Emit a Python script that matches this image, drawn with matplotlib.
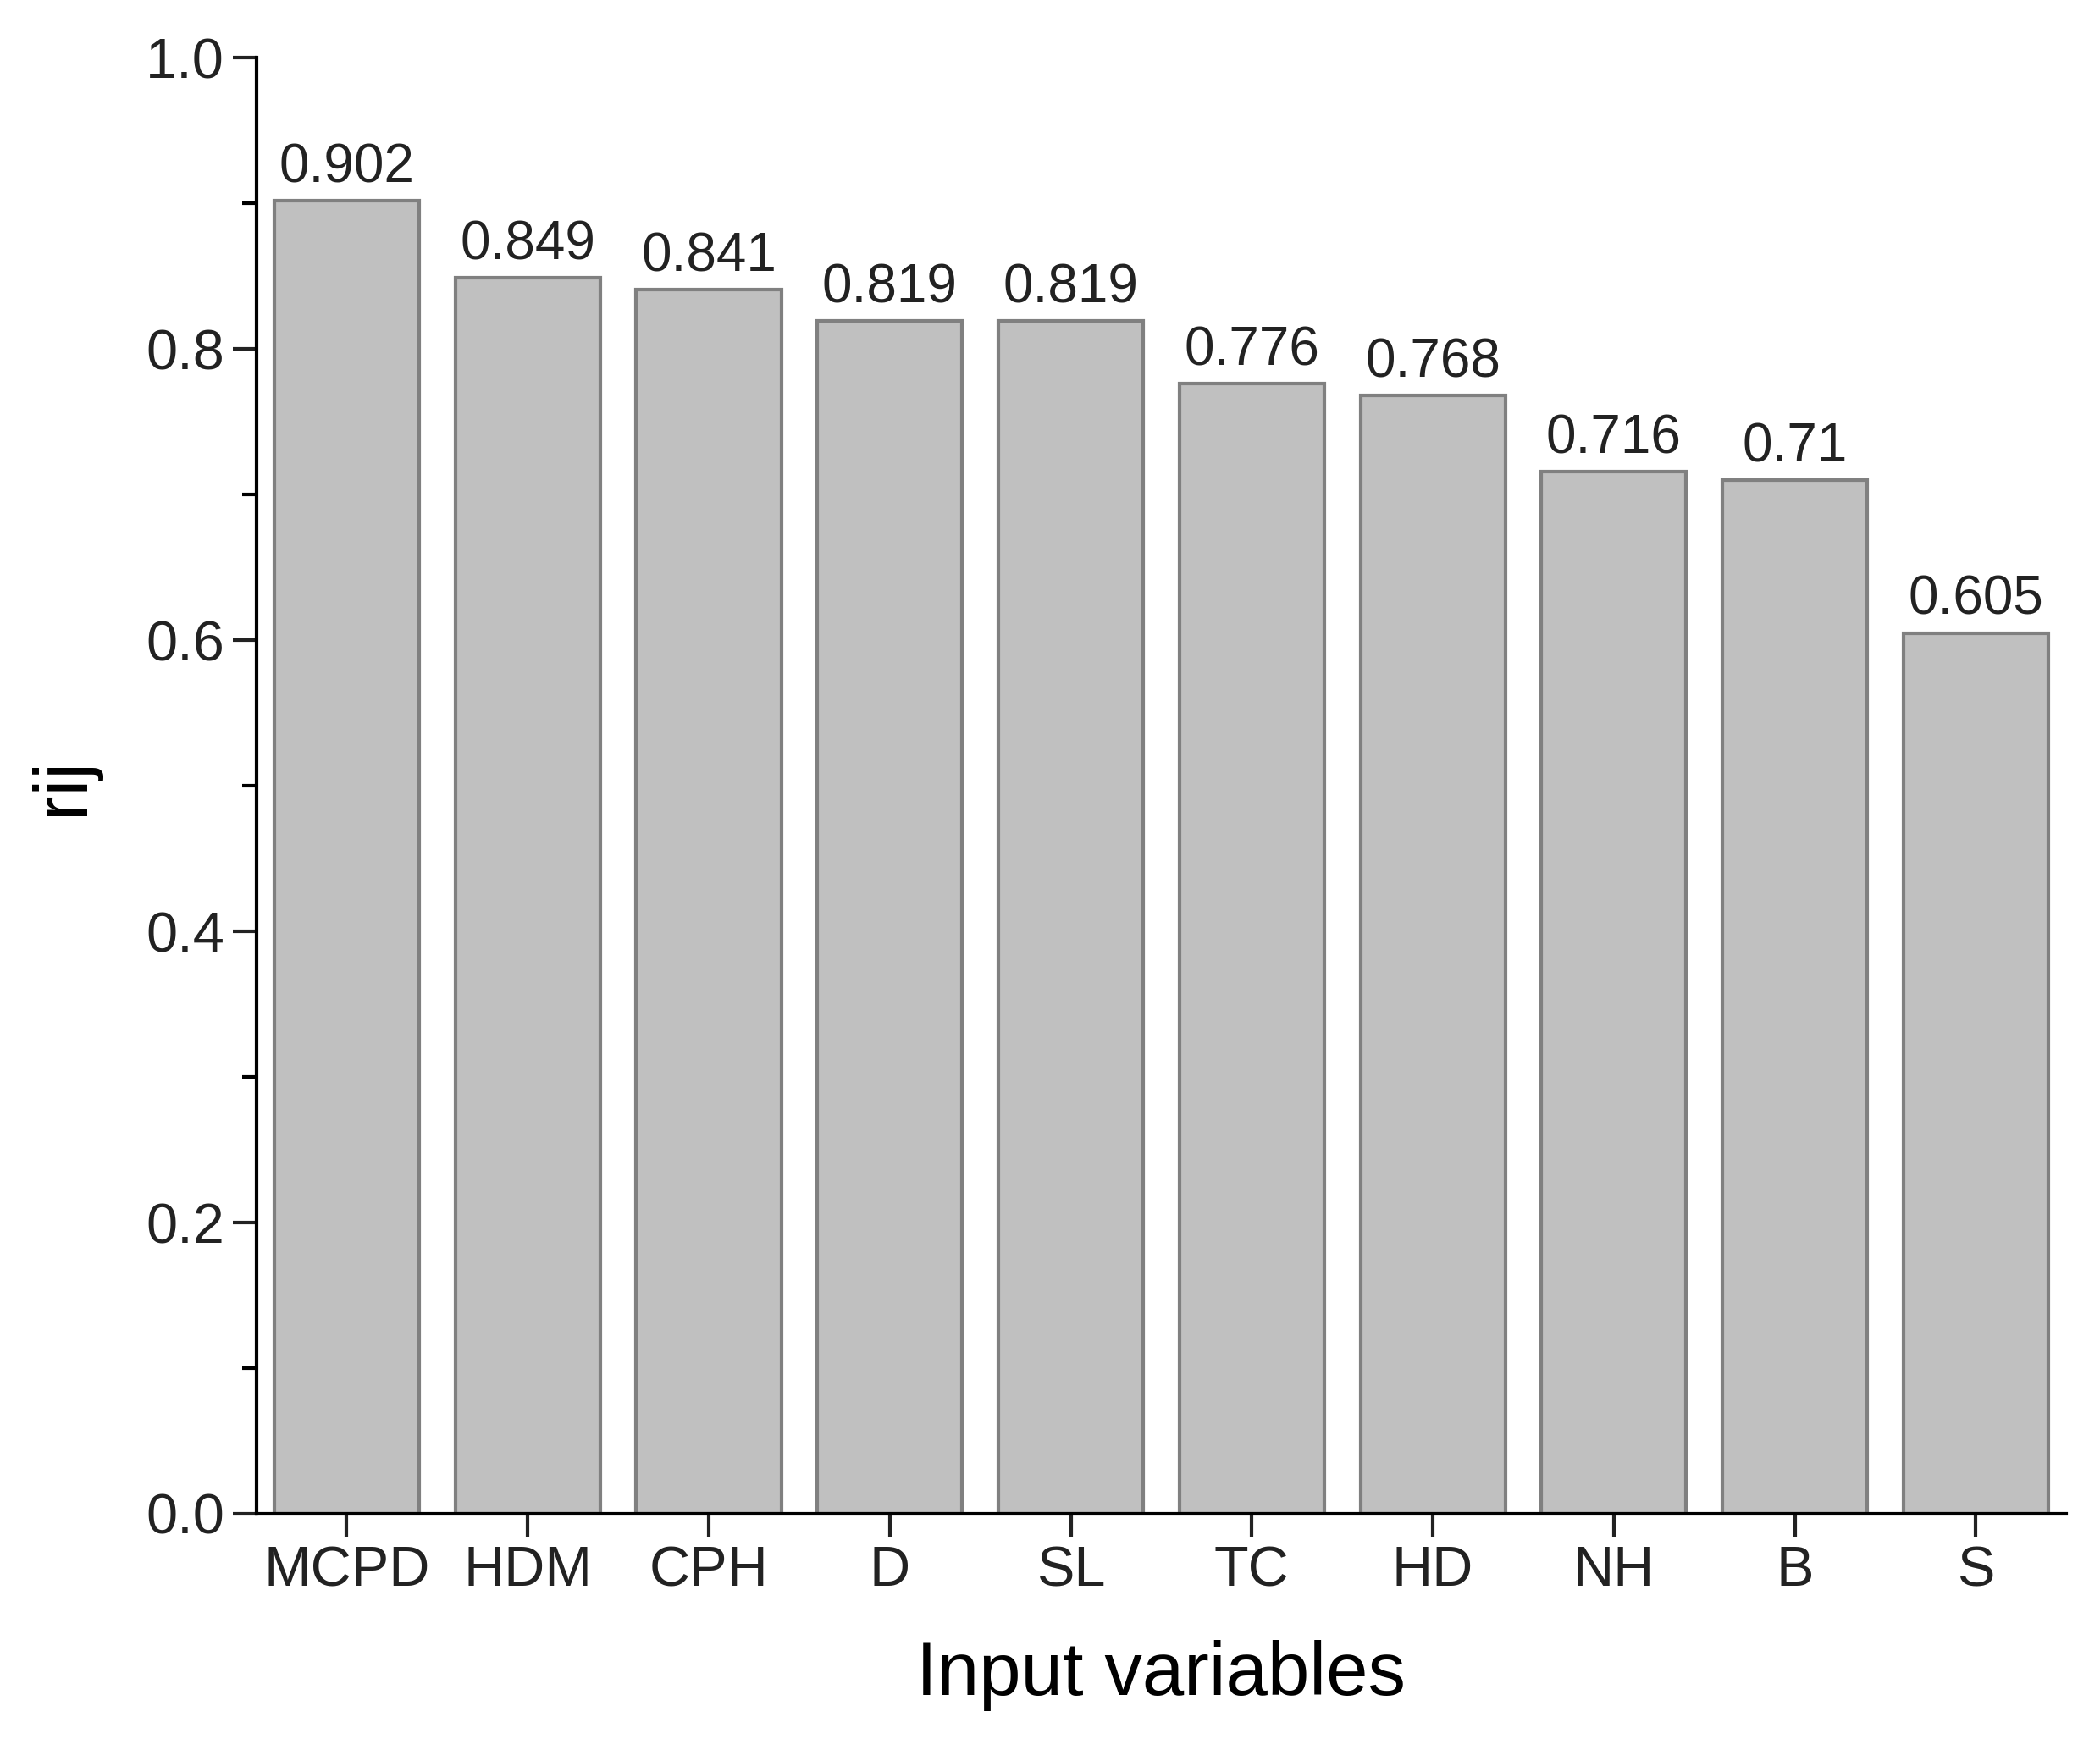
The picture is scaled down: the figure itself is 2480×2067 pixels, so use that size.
import matplotlib
matplotlib.use("Agg")
import matplotlib.pyplot as plt
from matplotlib.ticker import MultipleLocator

categories = ["MCPD", "HDM", "CPH", "D", "SL", "TC", "HD", "NH", "B", "S"]
values = [0.902, 0.849, 0.841, 0.819, 0.819, 0.776, 0.768, 0.716, 0.71, 0.605]
labels = ["0.902", "0.849", "0.841", "0.819", "0.819", "0.776", "0.768", "0.716", "0.71", "0.605"]

plt.rcParams['font.family'] = ['Liberation Sans', 'DejaVu Sans']
fig = plt.figure(figsize=(12.4, 10.335), dpi=200)
ax = fig.add_axes([0.122, 0.135, 0.862, 0.832])
x = range(len(categories))
ax.bar(x, values, width=0.8, color='#c0c0c0', edgecolor='#808080', linewidth=1.5)
for i, (v, t) in enumerate(zip(values, labels)):
    ax.text(i, v + 0.005, t, ha='center', va='bottom', fontsize=23, color='#222222')
ax.set_xlim(-0.5, 9.5)
ax.set_ylim(0, 1.0)
ax.set_xticks(list(x))
ax.set_xticklabels(categories)
ax.yaxis.set_major_locator(MultipleLocator(0.2))
ax.yaxis.set_minor_locator(MultipleLocator(0.1))
ax.set_yticklabels([f"{v:.1f}" for v in [0, 0.2, 0.4, 0.6, 0.8, 1.0]]) if False else None
ax.yaxis.set_major_formatter(plt.FormatStrFormatter('%.1f'))
ax.tick_params(axis='both', which='major', direction='out', length=10, width=1.5, labelsize=24, colors='#222222')
ax.tick_params(axis='y', which='minor', direction='out', length=6, width=1.5)
ax.spines['top'].set_visible(False)
ax.spines['right'].set_visible(False)
for s in ['left', 'bottom']:
    ax.spines[s].set_linewidth(1.5)
ax.set_xlabel("Input variables", fontsize=32, labelpad=18)
ax.set_ylabel("rij", fontsize=32, labelpad=20)
fig.savefig("out.png", dpi=200)
